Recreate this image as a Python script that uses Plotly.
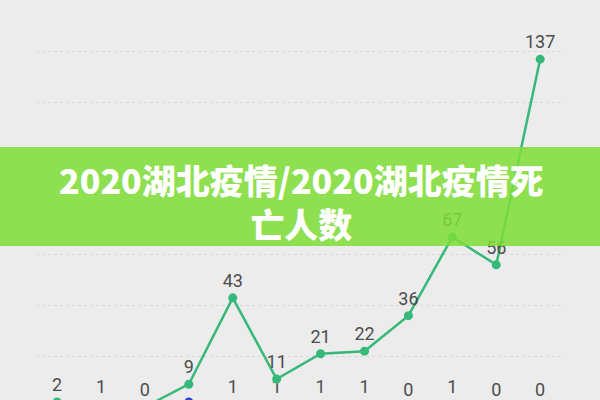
import plotly.graph_objects as go

# daily points, left to right
days = list(range(12))
deaths = [2, 1, 0, 9, 43, 11, 21, 22, 36, 67, 56, 137]
other = [None, None, None, 2, 1, 1, 1, 1, 0, 1, 0, 0]
other_labels = ["", "", "", "", "1", "1", "1", "1", "0", "1", "0", "0"]

title_text = "2020湖北疫情/2020湖北疫情死<br>亡人数"

fig = go.Figure()

fig.add_trace(go.Scatter(
  x=days,
  y=other,
  mode="lines+markers+text",
  text=other_labels,
  textposition="top center",
  textfont=dict(family="Roboto", size=18, color="#4d4d4d"),
  line=dict(width=2.5, color="#3344cc"),
  marker=dict(size=9, color="#3344cc"),
  cliponaxis=False,
  showlegend=False
))

fig.add_trace(go.Scatter(
  x=days,
  y=deaths,
  mode="lines+markers+text",
  text=[str(v) for v in deaths],
  textposition="top center",
  textfont=dict(family="Roboto", size=18, color="#4d4d4d"),
  line=dict(width=2.5, color="#36b87a"),
  marker=dict(size=9, color="#36b87a"),
  cliponaxis=False,
  showlegend=False
))

# green banner across the middle
fig.add_shape(
  type="rect", xref="paper", yref="paper",
  x0=-0.07, x1=1.08, y0=0.4143, y1=0.65,
  fillcolor="rgb(126,222,54)", opacity=0.85,
  line=dict(width=0), layer="above"
)

fig.add_annotation(
  text=title_text, xref="paper", yref="paper",
  x=0.503, y=0.5202, showarrow=False,
  font=dict(family="Noto Sans CJK SC", size=34, color="white", weight=900),
  align="center"
)

# chart runs a little past the bottom of the window, like the source crop
fig.update_layout(
  width=600, height=420,
  margin=dict(l=36, r=37, t=0, b=0),
  paper_bgcolor="#ececec",
  plot_bgcolor="#ececec",
  xaxis=dict(range=[-0.48, 11.52], showgrid=False, showticklabels=False,
             zeroline=False, showline=False, ticks=""),
  yaxis=dict(range=[-5.1, 160.3], tick0=0, dtick=20, showgrid=True,
             gridcolor="#d8d8d8", gridwidth=1, griddash="dot",
             showticklabels=False, zeroline=False, showline=False, ticks="")
)

fig.write_html(
  "out.html",
  config={"displayModeBar": False},
  post_script="document.body.style.margin='0';document.body.style.overflow='hidden';"
)
